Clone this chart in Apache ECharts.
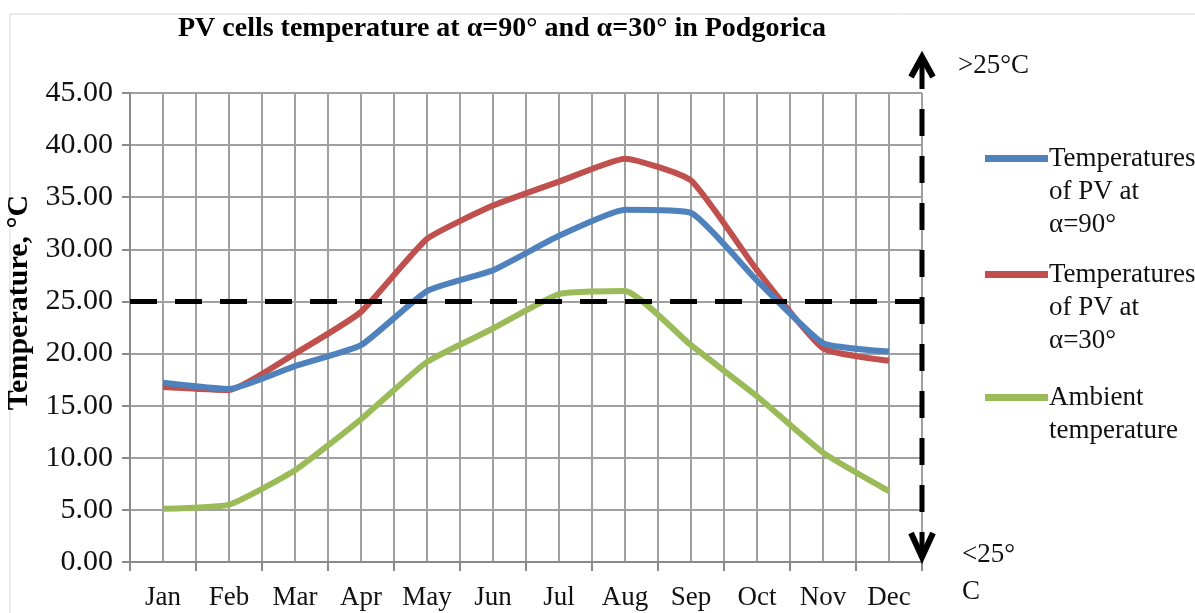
<!DOCTYPE html>
<html>
<head>
<meta charset="utf-8">
<script src="https://cdn.jsdelivr.net/npm/echarts@6/dist/echarts.min.js"></script>
<style>
  html, body { margin: 0; padding: 0; background: #fff; }
  #chart { width: 1195px; height: 613px; }
</style>
</head>
<body>
<div id="chart"></div>
<script>
const months = ['Jan', 'Feb', 'Mar', 'Apr', 'May', 'Jun', 'Jul', 'Aug', 'Sep', 'Oct', 'Nov', 'Dec'];
const pv90 = [17.2, 16.6, 18.8, 20.8, 26.0, 28.0, 31.3, 33.8, 33.5, 27.0, 21.0, 20.2];
const pv30 = [16.8, 16.5, 20.0, 24.0, 31.0, 34.2, 36.5, 38.7, 36.6, 28.0, 20.5, 19.3];
const ambient = [5.1, 5.5, 8.8, 13.7, 19.2, 22.4, 25.7, 26.0, 20.8, 15.9, 10.5, 6.8];
const yTicks = [0, 45, 5];   // min, max, step
const threshold = 25;

const names = [
  'Temperatures\nof PV at\nα=90°',
  'Temperatures\nof PV at\nα=30°',
  'Ambient\ntemperature'
];
const colors = ['#4f81bd', '#c0504d', '#9bbb59'];

const serif = 'Liberation Serif';
const grey = '#a0a0a0';

const chart = echarts.init(document.getElementById('chart'));

// legend: one per item so the line sits on the first text line
function legendFor(i, top) {
  return {
    orient: 'vertical',
    left: 980,
    top: top,
    data: [names[i]],
    itemWidth: 63,
    itemHeight: 7,
    itemGap: 0,
    icon: 'rect',
    formatter: n => n.split('\n').length === 3 ? '\n\n' + n : '\n' + n,
    textStyle: { fontFamily: serif, fontSize: 27, lineHeight: 33, color: '#111', padding: [0, 0, 0, -4] }
  };
}

const option = {
  animation: false,
  title: {
    text: 'PV cells temperature at α=90° and α=30° in Podgorica',
    left: 497,
    top: 10,
    textAlign: 'center',
    textStyle: { fontFamily: serif, fontSize: 28, fontWeight: 'bold', color: '#000' }
  },
  legend: [legendFor(0, 71), legendFor(1, 187), legendFor(2, 343)],
  grid: { left: 130, right: 273, top: 93, bottom: 51, outerBoundsMode: 'none', containLabel: false },
  xAxis: [{
    type: 'category',
    data: months,
    boundaryGap: true,
    axisLine: { lineStyle: { color: '#8a8a8a', width: 2 } },
    axisTick: { show: true, length: 9, lineStyle: { color: '#8a8a8a', width: 2 } },
    axisLabel: { fontFamily: serif, fontSize: 27, color: '#111', margin: 22, interval: 0, hideOverlap: false },
    splitLine: { show: false }
  }, {
    type: 'value',
    min: 0,
    max: 24,
    interval: 1,
    position: 'top',
    axisLine: { show: false },
    axisTick: { show: false },
    axisLabel: { show: false },
    splitLine: { show: true, lineStyle: { color: grey, width: 2 } }
  }],
  yAxis: {
    type: 'value',
    min: yTicks[0],
    max: yTicks[1],
    interval: yTicks[2],
    name: 'Temperature, °C',
    nameLocation: 'middle',
    nameGap: 80,
    nameTextStyle: { fontFamily: serif, fontSize: 30, fontWeight: 'bold', color: '#000', padding: [0, 0, 0, 50] },
    axisLine: { show: true, lineStyle: { color: '#8a8a8a', width: 2 } },
    axisTick: { show: true, length: 8, lineStyle: { color: '#8a8a8a', width: 2 } },
    axisLabel: { fontFamily: serif, fontSize: 30, color: '#111', margin: 17, formatter: v => v.toFixed(2) },
    splitLine: { show: true, lineStyle: { color: grey, width: 2 } }
  },
  series: [
    {
      name: names[0], type: 'line', data: pv90, smooth: 0.15,
      symbol: 'none', lineStyle: { width: 6, color: colors[0] }, itemStyle: { color: colors[0] },
      markLine: {
        silent: true, symbol: 'none', label: { show: false },
        lineStyle: { color: '#000', width: 5, type: [27, 18] },
        data: [{ yAxis: threshold }]
      },
      z: 3
    },
    {
      name: names[1], type: 'line', data: pv30, smooth: 0.15,
      symbol: 'none', lineStyle: { width: 6, color: colors[1] }, itemStyle: { color: colors[1] }, z: 2
    },
    {
      name: names[2], type: 'line', data: ambient, smooth: 0.15,
      symbol: 'none', lineStyle: { width: 6, color: colors[2] }, itemStyle: { color: colors[2] }, z: 2
    }
  ],
  graphic: [
    { type: 'polyline', shape: { points: [[10, 613], [10, 14], [1195, 14]] }, style: { stroke: '#d8d8d8', lineWidth: 1, fill: null }, silent: true },
    { type: 'line', shape: { x1: 922, y1: 62, x2: 922, y2: 552 }, style: { stroke: '#000', lineWidth: 5, lineDash: [27, 20] }, z: 10 },
    { type: 'polyline', shape: { points: [[911, 77], [922, 57], [933, 77]] }, style: { stroke: '#000', lineWidth: 6, fill: null }, z: 10 },
    { type: 'polyline', shape: { points: [[911, 533], [922, 557], [933, 533]] }, style: { stroke: '#000', lineWidth: 6, fill: null }, z: 10 },
    { type: 'text', left: 958, top: 52, style: { text: '>25°C', font: '27px "Liberation Serif"', fill: '#111' } },
    { type: 'text', left: 962, top: 541, style: { text: '<25°', font: '27px "Liberation Serif"', fill: '#111' } },
    { type: 'text', left: 962, top: 578, style: { text: 'C', font: '27px "Liberation Serif"', fill: '#111' } }
  ]
};

chart.setOption(option);
</script>
</body>
</html>
